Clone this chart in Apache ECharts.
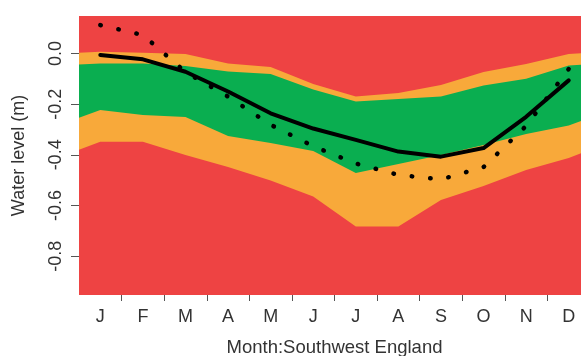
<!DOCTYPE html>
<html>
<head>
<meta charset="utf-8">
<script src="https://cdn.jsdelivr.net/npm/echarts@6/dist/echarts.min.js"></script>
<style>
html,body{margin:0;padding:0;background:#fff;}
#chart{width:581px;height:356px;}
</style>
</head>
<body>
<div id="chart"></div>
<script>
// Month labels (Jan..Dec)
var months = ['J','F','M','A','M','J','J','A','S','O','N','D'];
// Band boundaries per month (m)
var redOrangeTop   = [0.007, 0.003, -0.002, -0.039, -0.053, -0.120, -0.170, -0.156, -0.124, -0.073, -0.041, -0.002];
var orangeGreenTop = [-0.039, -0.039, -0.049, -0.071, -0.081, -0.142, -0.189, -0.180, -0.170, -0.126, -0.100, -0.047];
var greenOrangeBot = [-0.223, -0.243, -0.251, -0.326, -0.353, -0.385, -0.472, -0.436, -0.401, -0.361, -0.318, -0.284];
var orangeRedBot   = [-0.348, -0.348, -0.401, -0.448, -0.501, -0.564, -0.683, -0.683, -0.578, -0.523, -0.460, -0.412];
// Solid line and dotted line
var solidLine  = [-0.006, -0.023, -0.072, -0.150, -0.236, -0.296, -0.341, -0.387, -0.407, -0.373, -0.250, -0.106];
var dottedLine = [0.112, 0.073, -0.073, -0.170, -0.281, -0.366, -0.434, -0.479, -0.497, -0.448, -0.286, -0.061];
// Y tick labels
var yTicks = [-0.8, -0.6, -0.4, -0.2, 0.0];

var RED = '#ee4343', ORANGE = '#f8a93a', GREEN = '#0aae50';
var FONT = 'Liberation Sans';

// cyclic boundary: previous Dec at x=0, next Jan at x=13
function wrap(arr) {
  var out = [[0, arr[11]]];
  for (var i = 0; i < 12; i++) out.push([i + 1, arr[i]]);
  out.push([13, arr[0]]);
  return out;
}
function plain(arr) {
  return arr.map(function (v, i) { return [i + 1, v]; });
}
function band(name, arr, color) {
  return {
    name: name, type: 'line', data: wrap(arr), showSymbol: false, silent: true,
    lineStyle: { width: 0 }, areaStyle: { color: color, opacity: 1, origin: 'start' },
    animation: false
  };
}
var monthCenters = months.map(function (m, i) { return i + 1; });
var monthBounds = months.slice(1).map(function (m, i) { return i + 1.5; });

var chart = echarts.init(document.getElementById('chart'), null, { renderer: 'canvas' });
chart.setOption({
  animation: false,
  backgroundColor: '#ffffff',
  grid: { left: 79, top: 16, width: 511, height: 279, show: true, backgroundColor: RED, borderWidth: 0, containLabel: false, outerBoundsMode: 'none' },
  xAxis: {
    type: 'value', min: 0.5, max: 12.5,
    axisLine: { show: false, onZero: false },
    splitLine: { show: false },
    axisTick: { show: true, customValues: monthBounds, length: 6, lineStyle: { color: '#555', width: 1 } },
    axisLabel: {
      customValues: monthCenters, margin: 13,
      formatter: function (v) { return months[Math.round(v) - 1]; },
      color: '#333', fontFamily: FONT, fontSize: 18
    },
    name: 'Month:Southwest England', nameLocation: 'middle', nameGap: 43,
    nameTextStyle: { color: '#333', fontFamily: FONT, fontSize: 18.5 }
  },
  yAxis: {
    type: 'value', min: -0.953, max: 0.148,
    axisLine: { show: false, onZero: false },
    splitLine: { show: false },
    axisTick: { show: true, customValues: yTicks, length: 8, lineStyle: { color: '#555', width: 1 } },
    axisLabel: {
      customValues: yTicks, rotate: 90, margin: 14,
      formatter: function (v) { return v.toFixed(1); },
      color: '#333', fontFamily: FONT, fontSize: 18
    },
    name: 'Water level (m)', nameLocation: 'middle', nameGap: 51,
    nameTextStyle: { color: '#333', fontFamily: FONT, fontSize: 18 }
  },
  series: [
    band('top', redOrangeTop, ORANGE),
    band('greenTop', orangeGreenTop, GREEN),
    band('greenBot', greenOrangeBot, ORANGE),
    band('redBot', orangeRedBot, RED),
    {
      name: 'solid', type: 'line', data: plain(solidLine), showSymbol: false,
      lineStyle: { color: '#000', width: 4, cap: 'round', join: 'round' }, z: 5
    },
    {
      name: 'dotted', type: 'line', data: plain(dottedLine), showSymbol: false,
      lineStyle: { color: '#000', width: 4.5, type: [0.5, 18], cap: 'round' }, z: 6
    }
  ]
});
</script>
</body>
</html>
